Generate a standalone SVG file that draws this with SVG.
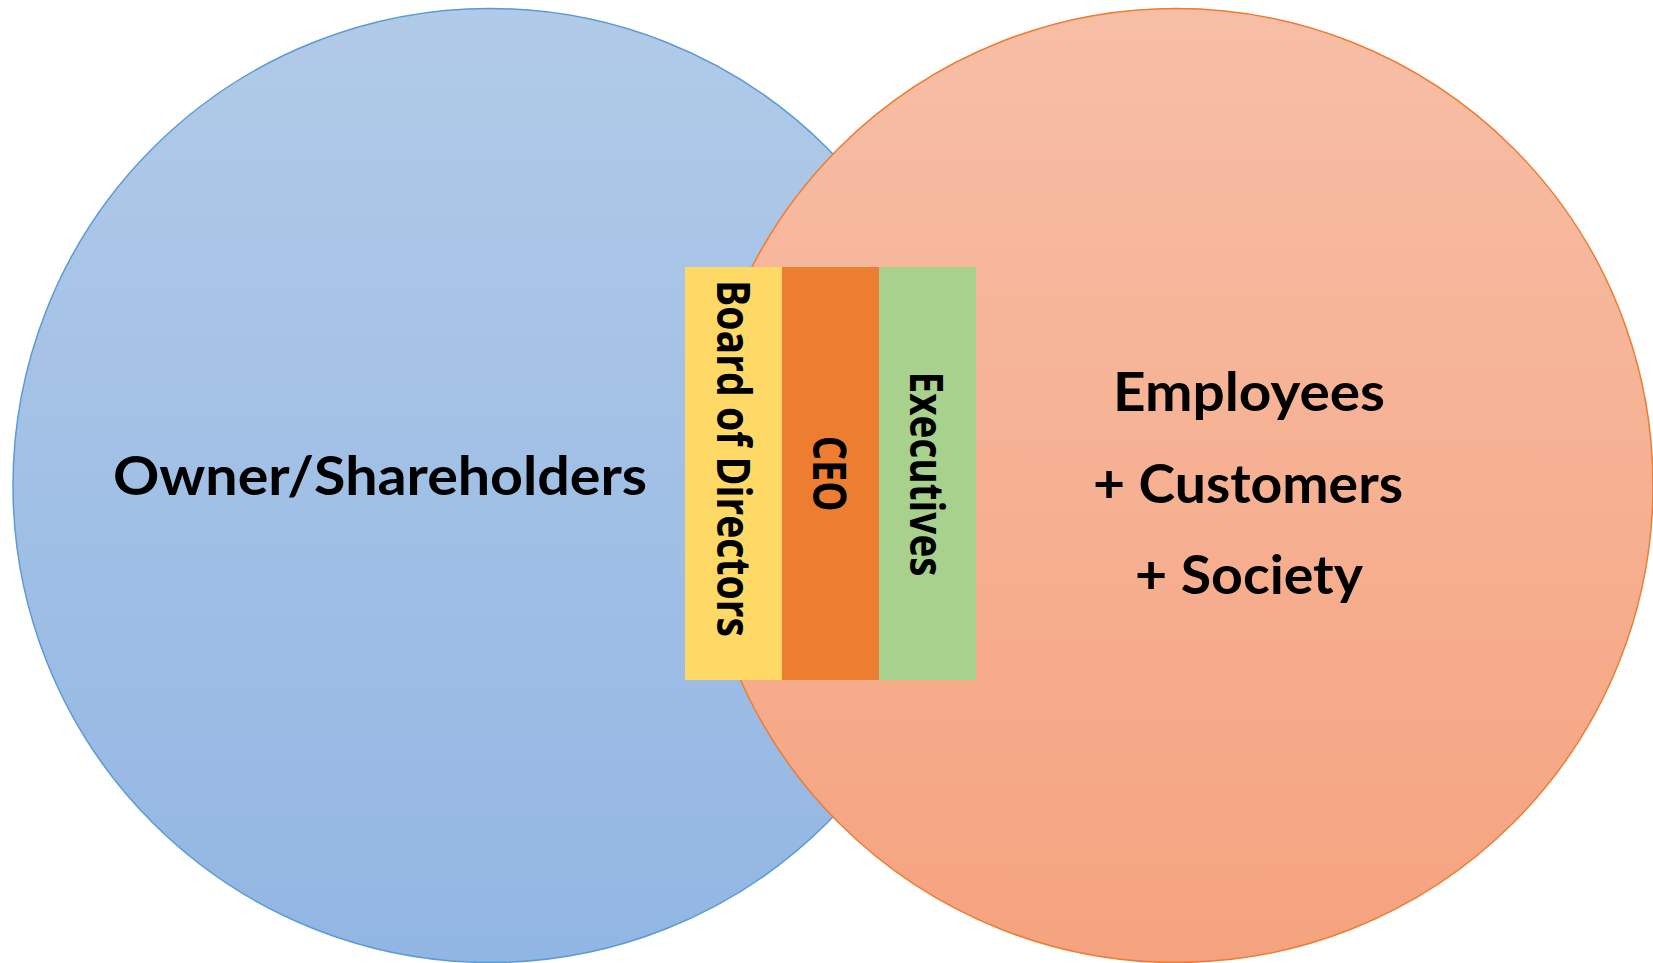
<svg xmlns="http://www.w3.org/2000/svg" width="1653" height="963" viewBox="0 0 1653 963">
<defs>
<linearGradient id="gBlue" x1="0" y1="0" x2="0" y2="1">
<stop offset="0" stop-color="#B1CAE8"/>
<stop offset="1" stop-color="#92B6E3"/>
</linearGradient>
<linearGradient id="gOrange" x1="0" y1="0" x2="0" y2="1">
<stop offset="0" stop-color="#F7BEA6"/>
<stop offset="1" stop-color="#F5A37F"/>
</linearGradient>
<style>
.big{font-family:Lato,"Liberation Sans",sans-serif;font-weight:bold;font-size:54px;fill:#000;text-anchor:middle}
.vert{font-family:"Open Sans","Liberation Sans",sans-serif;font-weight:bold;font-size:46px;fill:#000;text-anchor:middle}
</style>
</defs>
<rect width="1653" height="963" fill="#FFFFFF"/>
<g id="owner">
<circle cx="490" cy="485.5" r="477" fill="url(#gBlue)" stroke="#5B9BD5" stroke-width="1.5"/>
<text class="big" x="380" y="495" textLength="534" lengthAdjust="spacingAndGlyphs">Owner/Shareholders</text>
</g>
<g id="stakeholders">
<circle cx="1176" cy="485.5" r="477" fill="url(#gOrange)" stroke="#ED7D31" stroke-width="1.5"/>
<text class="big" x="1249" y="411" textLength="272" lengthAdjust="spacingAndGlyphs">Employees</text>
<text class="big" x="1248" y="503" textLength="310" lengthAdjust="spacingAndGlyphs">+ Customers</text>
<text class="big" x="1249" y="594" textLength="228" lengthAdjust="spacingAndGlyphs">+ Society</text>
</g>
<g id="board">
<rect x="685" y="267" width="97" height="413" fill="#FFD966"/>
<text class="vert" transform="translate(717,458.5) rotate(90)" textLength="357" lengthAdjust="spacingAndGlyphs">Board of Directors</text>
</g>
<g id="ceo">
<rect x="782" y="267" width="97" height="413" fill="#ED7D31"/>
<text class="vert" transform="translate(813,473.7) rotate(90)" textLength="76" lengthAdjust="spacingAndGlyphs">CEO</text>
</g>
<g id="executives">
<rect x="879" y="267" width="97" height="413" fill="#A9D18E"/>
<text class="vert" transform="translate(910,474) rotate(90)" textLength="205" lengthAdjust="spacingAndGlyphs">Executives</text>
</g>
<g id="connectors"></g>
</svg>
